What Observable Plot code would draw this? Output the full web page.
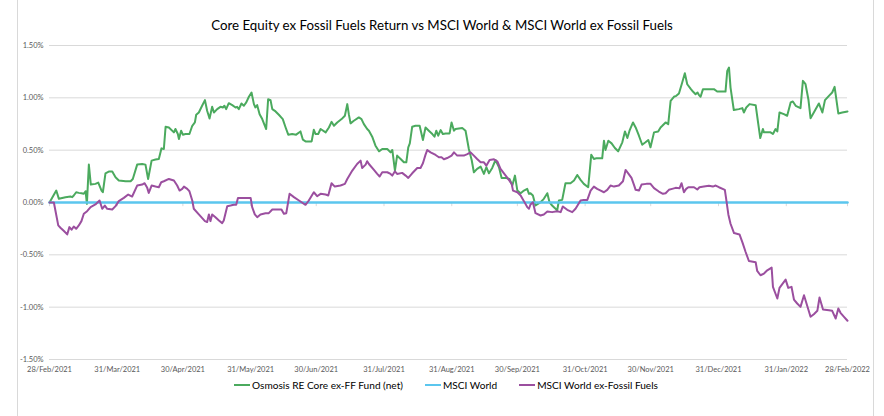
<!DOCTYPE html>
<html>
<head>
<meta charset="utf-8">
<script src="https://cdn.jsdelivr.net/npm/d3@7"></script>
<script src="https://cdn.jsdelivr.net/npm/@observablehq/plot@0.6"></script>
<style>
  html, body { margin: 0; padding: 0; background: #fff; }
  body { width: 884px; height: 416px; position: relative; overflow: hidden; font-family: Lato, "Open Sans", sans-serif; }
  #title { text-align: center; font-size: 13.3px; line-height: 20px; padding-top: 15px; height: 22px; color: #000; }
  #chart { height: 340px; }
  #legend { display: flex; justify-content: center; align-items: center; gap: 22px; font-size: 10.1px; line-height: 16px; color: #000; margin-left: 8px; }
  #legend .item { display: flex; align-items: center; }
  #legend .sw { display: inline-block; width: 16px; height: 2px; margin-right: 2px; }
  .vline { position: absolute; top: 0; width: 1px; height: 416px; background: #d9d9d9; }
</style>
</head>
<body>
<div class="vline" style="left:17px"></div>
<div class="vline" style="left:873px"></div>
<div id="title">Core Equity ex Fossil Fuels Return vs MSCI World &amp; MSCI World ex Fossil Fuels</div>
<div id="chart"></div>
<div id="legend"></div>
<script>
// ---- data (days since 28/Feb/2021, cumulative relative return in %) ----
const baseDate = "2021-02-28";
const seriesNames = ["Osmosis RE Core ex-FF Fund (net)", "MSCI World", "MSCI World ex-Fossil Fuels"];
const seriesColors = ["#4BAA5E", "#5BC6EE", "#9B4F9F"];

const fundDay = [0,3.1,4.3,7.3,9.6,10.4,11.1,12.2,13.4,14.6,15.7,16.5,17.1,18.0,18.9,21.0,22.3,23.8,24.4,25.6,27.1,28.7,30.2,31.7,34.8,37.1,38.1,40.1,42.4,43.9,45.1,46.7,48.5,50.0,51.2,52.3,53.1,54.6,56.9,57.6,58.7,59.2,60.2,61.0,62.2,64.0,65.3,66.5,67.1,68.3,69.8,71.1,72.1,73.2,74.4,75.2,76.7,78.2,79.3,80.0,80.8,82.0,83.6,85.1,85.8,86.6,87.8,88.9,90.0,91.2,92.4,93.5,94.2,95.0,96.1,97.3,99.1,100.0,101.1,101.9,103.4,104.9,106.7,108.0,109.2,111.0,112.8,114.8,115.9,117.1,119.9,120.9,121.7,122.9,124.0,126.3,127.8,129.0,130.1,131.6,133.6,135.1,136.2,136.9,137.7,139.2,141.5,142.7,143.8,145.3,146.1,147.6,149.1,150.7,152.2,154.5,156.0,156.8,158.0,159.0,160.6,162.1,163.2,164.1,164.8,165.9,167.4,169.3,170.8,172.0,173.5,175.1,176.1,176.9,177.8,178.9,179.9,181.2,183.0,183.9,185.0,185.7,188.8,190.3,191.8,193.1,194.1,195.6,197.2,198.7,199.8,201.0,202.5,204.0,205.6,206.8,208.6,210.4,211.7,212.9,214.0,215.5,217.0,218.5,219.3,220.0,221.1,222.3,224.6,226.1,227.7,228.7,229.9,231.2,232.2,233.0,234.5,236.0,238.3,239.9,241.4,242.9,244.4,246.4,247.8,249.0,250.1,252.8,253.6,254.3,255.6,257.1,258.6,260.1,262.0,263.2,264.3,265.3,266.9,268.1,269.6,271.1,272.6,273.9,274.9,276.5,278.4,279.5,280.3,281.8,283.0,284.1,285.6,286.7,287.9,289.4,290.6,291.7,293.2,294.3,295.5,296.4,297.0,297.8,298.9,300.9,303.9,305.4,309.2,310.0,310.8,311.5,313.0,315.3,316.9,317.6,318.7,320.2,323.0,324.2,325.1,326.3,326.8,329.8,330.9,332.1,332.9,333.9,335.9,337.4,339.0,340.0,341.3,343.5,344.6,345.8,347.1,348.1,349.6,351.9,353.5,354.7,356.5,358.0,359.1,360.8,362.6,365.0];
const fundRet = [0,0.114,0.035,0.051,0.057,0.051,0.067,0.098,0.092,0.089,0.083,0.108,-0.013,0.362,0.171,0.178,0.190,0.114,0.098,0.279,0.295,0.295,0.241,0.210,0.203,0.203,0.225,0.362,0.368,0.362,0.225,0.400,0.410,0.416,0.517,0.511,0.724,0.717,0.670,0.702,0.654,0.606,0.686,0.648,0.654,0.654,0.733,0.765,0.838,0.860,0.924,0.978,0.876,0.803,0.914,0.860,0.892,0.914,0.908,0.924,0.892,0.949,0.930,0.908,0.914,0.892,0.946,0.924,0.956,1.010,1.051,0.940,0.908,0.930,0.844,0.797,0.702,0.987,0.978,0.892,0.870,0.838,0.797,0.717,0.648,0.654,0.648,0.679,0.600,0.584,0.584,0.695,0.654,0.654,0.702,0.670,0.717,0.771,0.733,0.765,0.797,0.829,0.940,0.844,0.756,0.781,0.813,0.797,0.749,0.702,0.686,0.629,0.543,0.489,0.511,0.511,0.479,0.502,0.305,0.448,0.416,0.384,0.384,0.527,0.565,0.724,0.733,0.733,0.597,0.717,0.686,0.654,0.629,0.686,0.638,0.692,0.654,0.660,0.660,0.765,0.686,0.702,0.711,0.686,0.511,0.406,0.289,0.321,0.343,0.273,0.337,0.279,0.330,0.406,0.337,0.235,0.235,0.225,0.162,0.257,0.114,0.089,0.114,0.130,0.083,0.089,0.067,-0.029,0.003,0.035,0.089,0.003,-0.029,-0.054,-0.076,0.019,0.025,0.184,0.184,0.210,0.263,0.216,0.178,0.146,0.457,0.416,0.422,0.422,0.590,0.502,0.590,0.565,0.521,0.489,0.575,0.679,0.616,0.686,0.765,0.717,0.638,0.552,0.575,0.597,0.527,0.670,0.679,0.717,0.733,0.765,0.749,0.971,1.010,1.019,1.041,1.146,1.235,1.130,1.088,1.060,1.035,1.051,1.029,1.010,1.083,1.083,1.083,1.060,1.060,1.257,1.289,1.098,0.883,0.892,0.902,0.860,0.908,0.940,0.930,0.749,0.616,0.702,0.670,0.670,0.654,0.702,0.679,0.860,0.844,0.829,0.956,0.965,0.924,0.902,1.162,1.130,0.987,0.806,0.860,0.946,0.860,0.978,1.019,1.051,1.105,0.851,0.860,0.870];

const msciDay = [0, 365];
const msciRet = [0, 0];

const exffDay = [0,2.0,2.7,4.0,5.0,6.6,8.1,9.1,10.1,11.1,12.2,13.4,14.6,15.7,17.2,18.8,21.0,22.9,24.1,25.3,26.4,28.7,30.2,31.7,34.0,36.0,37.8,40.1,42.4,43.5,44.7,45.4,46.7,48.5,50.0,51.1,52.3,54.6,56.9,58.4,59.5,60.7,61.5,63.0,64.0,65.3,66.0,68.3,71.1,72.1,72.9,73.6,74.4,75.9,77.5,79.0,79.7,81.3,82.8,84.3,85.4,86.2,88.9,92.0,92.7,93.9,95.0,96.5,98.8,100.3,101.9,104.1,106.1,107.2,108.3,109.8,111.8,114.1,117.1,118.6,120.9,122.4,124.0,126.3,127.5,129.0,130.5,133.1,135.1,136.2,138.5,140.7,142.3,143.0,144.6,145.3,146.1,148.4,149.9,151.0,152.2,154.5,156.0,156.8,158.0,159.0,161.3,162.9,164.1,165.9,168.2,169.7,170.8,172.0,172.8,174.3,176.6,178.1,179.3,180.4,181.9,183.9,185.0,186.5,189.5,191.1,192.6,194.1,195.6,197.2,198.7,199.8,201.3,203.3,204.8,206.3,208.3,209.8,211.4,212.0,214.0,215.5,217.0,218.5,219.3,220.0,221.1,222.3,224.6,226.1,227.7,229.9,232.2,233.8,234.8,236.8,239.1,240.6,242.9,244.4,246.0,247.5,249.0,250.5,252.1,253.6,255.1,256.6,258.2,260.4,262.3,263.5,264.7,266.2,267.3,268.1,269.6,270.8,273.0,274.9,276.5,278.7,280.6,281.8,283.3,284.8,286.4,288.2,289.1,290.2,291.2,292.2,294.8,296.3,297.3,299.3,301.6,303.4,304.7,306.2,308.9,309.5,310.5,311.5,313.1,315.6,316.9,318.4,319.9,323.0,323.7,325.2,326.8,328.3,330.3,330.9,332.9,333.9,336.7,337.9,339.4,340.5,342.0,343.5,345.1,348.1,349.6,351.2,352.2,353.8,356.5,358.0,359.6,360.8,361.8,363.4,365.0];
const exffRet = [0,0,-0.076,-0.219,-0.241,-0.273,-0.305,-0.235,-0.260,-0.229,-0.251,-0.219,-0.178,-0.108,-0.083,-0.044,-0.019,0.019,-0.060,-0.029,-0.060,-0.067,-0.035,0.013,0.044,0.076,0.057,0.162,0.171,0.184,0.140,0.092,0.162,0.152,0.146,0.194,0.203,0.225,0.210,0.162,0.114,0.130,0.152,0.130,0.108,0.019,-0.060,-0.114,-0.178,-0.187,-0.114,-0.178,-0.114,-0.140,-0.171,-0.197,-0.171,-0.035,-0.029,-0.022,-0.022,0.044,0.044,0.044,-0.044,-0.114,-0.140,-0.114,-0.102,-0.102,-0.067,-0.067,-0.067,-0.108,-0.102,0.083,0.051,0.019,-0.022,0.019,0.098,0.060,0.083,0.076,0.067,0.184,0.152,0.162,0.178,0.225,0.305,0.368,0.400,0.330,0.362,0.394,0.368,0.311,0.273,0.248,0.289,0.289,0.273,0.257,0.298,0.273,0.283,0.257,0.235,0.279,0.330,0.330,0.375,0.457,0.502,0.479,0.454,0.432,0.432,0.413,0.425,0.448,0.479,0.448,0.448,0.463,0.479,0.448,0.416,0.384,0.384,0.352,0.406,0.413,0.394,0.321,0.267,0.225,0.178,0.114,0.098,0.067,0.013,-0.044,-0.060,-0.019,0.003,-0.102,-0.124,-0.114,-0.086,-0.092,-0.083,-0.092,-0.038,-0.070,-0.092,-0.060,0.019,0.025,0.025,0.114,0.152,0.130,0.114,0.098,0.121,0.162,0.152,0.162,0.203,0.311,0.279,0.235,0.171,0.121,0.114,0.171,0.178,0.178,0.137,0.105,0.083,0.089,0.121,0.130,0.140,0.137,0.184,0.098,0.130,0.146,0.146,0.124,0.146,0.152,0.159,0.152,0.162,0.146,0.121,0.035,-0.114,-0.203,-0.292,-0.305,-0.378,-0.473,-0.559,-0.571,-0.654,-0.695,-0.679,-0.648,-0.622,-0.806,-0.917,-0.816,-0.737,-0.816,-0.806,-0.927,-0.965,-0.997,-0.886,-1.092,-1.067,-1.035,-0.908,-1.022,-1.029,-1.035,-1.108,-1.013,-1.054,-1.092,-1.130];

const xTickDates = ["2021-02-28","2021-03-31","2021-04-30","2021-05-31","2021-06-30","2021-07-31","2021-08-31","2021-09-30","2021-10-31","2021-11-30","2021-12-31","2022-01-31","2022-02-28"];
const xTickLabels = ["28/Feb/2021","31/Mar/2021","30/Apr/2021","31/May/2021","30/Jun/2021","31/Jul/2021","31/Aug/2021","30/Sep/2021","31/Oct/2021","30/Nov/2021","31/Dec/2021","31/Jan/2022","28/Feb/2022"];
const yTicks = [-1.5, -1.0, -0.5, 0, 0.5, 1.0, 1.5];

// ---- build ----
const base = new Date(baseDate + "T00:00:00Z").getTime();
const toDate = d => new Date(base + d * 864e5);
function build(days, vals, name) { return days.map((d, i) => ({date: toDate(d), value: vals[i], series: name})); }
const fund = build(fundDay, fundRet, seriesNames[0]);
const msci = build(msciDay, msciRet, seriesNames[1]);
const exff = build(exffDay, exffRet, seriesNames[2]);
const tickDates = xTickDates.map(s => new Date(s + "T00:00:00Z"));
const labelMap = new Map(tickDates.map((d, i) => [d.getTime(), xTickLabels[i]]));

const plot = Plot.plot({
  width: 884,
  height: 340,
  marginLeft: 49,
  marginRight: 37,
  marginTop: 8,
  marginBottom: 18,
  style: {fontFamily: "Lato, 'Open Sans', sans-serif", background: "transparent"},
  x: {type: "utc", domain: [toDate(0), toDate(365)], label: null},
  y: {domain: [-1.5, 1.5], label: null},
  marks: [
    Plot.gridY(yTicks, {stroke: "#d9d9d9", strokeOpacity: 1, strokeWidth: 1}),
    Plot.axisY(yTicks, {tickSize: 0, tickPadding: 6, fontSize: 7.5, fill: "#595959", label: null, tickFormat: d => d.toFixed(2) + "%"}),
    Plot.axisX(tickDates, {tickSize: 0, tickPadding: 7, fontSize: 7.5, fill: "#595959", label: null, tickFormat: d => labelMap.get(d.getTime())}),
    Plot.ruleX(tickDates, {x: d => d, y1: 0, y2: -0.04, stroke: "#d9d9d9"}),
    Plot.line(fund, {x: "date", y: "value", stroke: seriesColors[0], strokeWidth: 2}),
    Plot.line(msci, {x: "date", y: "value", stroke: seriesColors[1], strokeWidth: 2.5}),
    Plot.line(exff, {x: "date", y: "value", stroke: seriesColors[2], strokeWidth: 2})
  ]
});
document.getElementById("chart").appendChild(plot);

const legend = document.getElementById("legend");
seriesNames.forEach((name, i) => {
  const item = document.createElement("div");
  item.className = "item";
  const sw = document.createElement("span");
  sw.className = "sw";
  sw.style.background = seriesColors[i];
  const tx = document.createElement("span");
  tx.textContent = name;
  item.appendChild(sw); item.appendChild(tx);
  legend.appendChild(item);
});
</script>
</body>
</html>
